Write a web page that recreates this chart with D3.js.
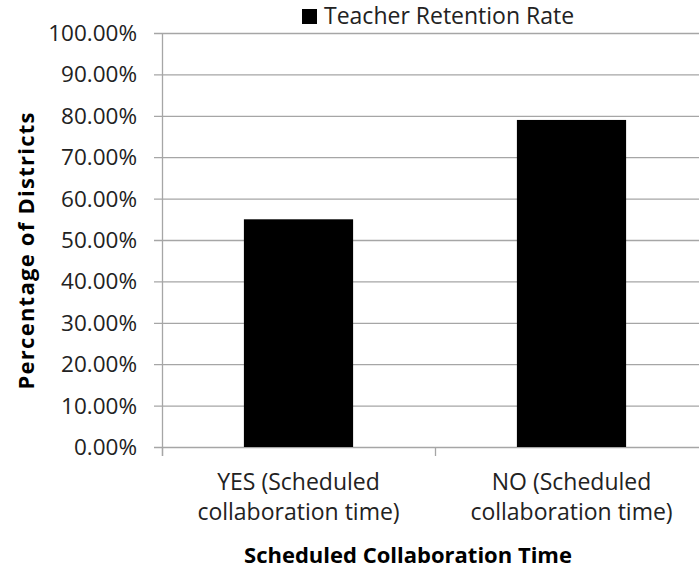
<!DOCTYPE html>
<html>
<head>
<meta charset="utf-8">
<script src="https://cdn.jsdelivr.net/npm/d3@7"></script>
<style>
  body { margin: 0; background: #fff; }
  svg text { font-family: "Open Sans", sans-serif; fill: #222; }
</style>
</head>
<body>
<svg id="chart" width="699" height="573"></svg>
<script>
// data
var categories = ["YES (Scheduled|collaboration time)", "NO (Scheduled|collaboration time)"];
var retention = [0.55, 0.79];
var yTicks = [0, 0.1, 0.2, 0.3, 0.4, 0.5, 0.6, 0.7, 0.8, 0.9, 1.0];
var seriesName = "Teacher Retention Rate";

var svg = d3.select("#chart");
var plotLeft = 162, plotRight = 708, plotTop = 33, plotBottom = 447;

var x = d3.scaleBand()
    .domain(categories)
    .range([plotLeft, plotRight])
    .paddingInner(0.6)
    .paddingOuter(0.3);

var y = d3.scaleLinear()
    .domain([0, 1])
    .range([plotBottom, plotTop]);

var fmt = d3.format(".2%");

// gridlines
svg.append("g")
  .selectAll("line")
  .data(yTicks)
  .enter().append("line")
    .attr("x1", plotLeft - 8).attr("x2", plotRight)
    .attr("y1", function(d) { return y(d) + 0.5; })
    .attr("y2", function(d) { return y(d) + 0.5; })
    .attr("stroke", "#a6a6a6")
    .attr("stroke-width", 1.3);

// y labels
svg.append("g")
  .selectAll("text")
  .data(yTicks)
  .enter().append("text")
    .attr("x", 137)
    .attr("y", function(d) { return y(d) + 8; })
    .attr("text-anchor", "end")
    .style("font-size", "22.5px")
    .text(function(d) { return fmt(d); });

// y axis line
svg.append("line")
    .attr("x1", plotLeft + 0.5).attr("x2", plotLeft + 0.5)
    .attr("y1", plotTop).attr("y2", plotBottom + 9)
    .attr("stroke", "#a6a6a6").attr("stroke-width", 1.3);

// category ticks on bottom
var step = x.step();
var bounds = [plotLeft, plotLeft + step, plotLeft + 2 * step];
svg.append("g")
  .selectAll("line")
  .data(bounds)
  .enter().append("line")
    .attr("x1", function(d) { return d + 0.5; })
    .attr("x2", function(d) { return d + 0.5; })
    .attr("y1", plotBottom).attr("y2", plotBottom + 9)
    .attr("stroke", "#a6a6a6").attr("stroke-width", 1.3);

// bars
svg.append("g")
  .selectAll("rect")
  .data(categories)
  .enter().append("rect")
    .attr("x", function(d) { return x(d); })
    .attr("y", function(d, i) { return y(retention[i]); })
    .attr("width", x.bandwidth())
    .attr("height", function(d, i) { return y(0) - y(retention[i]); })
    .attr("fill", "#000");

// category labels
var lab = svg.append("g")
  .selectAll("text")
  .data(categories)
  .enter().append("text")
    .attr("text-anchor", "middle")
    .style("font-size", "23px");
lab.selectAll("tspan")
  .data(function(d) { return d.split("|").map(function(s) { return {t: s, c: d}; }); })
  .enter().append("tspan")
    .attr("x", function(d) { return x(d.c) + x.bandwidth() / 2; })
    .attr("y", function(d, i) { return 490 + i * 30; })
    .text(function(d) { return d.t; });

// axis titles
svg.append("text")
    .attr("x", 408).attr("y", 563)
    .attr("text-anchor", "middle")
    .style("font-size", "22px").style("font-weight", "bold")
    .style("fill", "#000")
    .text("Scheduled Collaboration  Time");

svg.append("text")
    .attr("transform", "translate(34,251) rotate(-90)")
    .attr("text-anchor", "middle")
    .attr("textLength", 277)
    .attr("lengthAdjust", "spacing")
    .style("font-size", "22px").style("font-weight", "bold")
    .style("fill", "#000")
    .text("Percentage of Districts");

// legend
svg.append("rect")
    .attr("x", 302).attr("y", 9).attr("width", 15).attr("height", 15)
    .attr("fill", "#000");
svg.append("text")
    .attr("x", 324).attr("y", 24)
    .style("font-size", "23px")
    .text(seriesName);
</script>
</body>
</html>
